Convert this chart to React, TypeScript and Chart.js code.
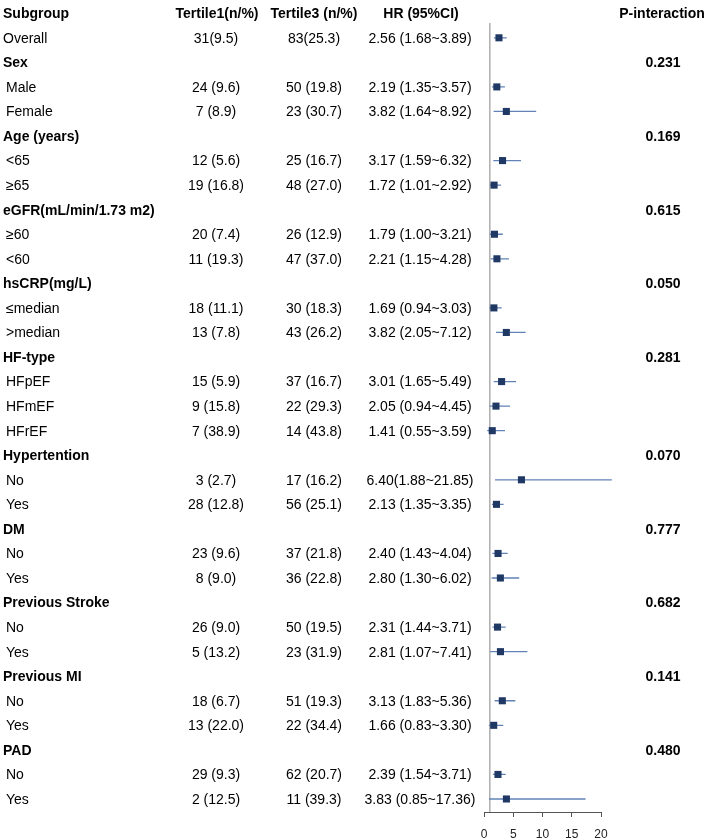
import React, { useEffect, useRef } from 'react';
import { Chart, registerables } from 'chart.js';

Chart.register(...registerables);

const FONT = "'Liberation Sans', Arial, Helvetica, sans-serif";

const headers = ['Subgroup', 'Tertile1(n/%)', 'Tertile3 (n/%)', 'HR (95%CI)', 'P-interaction'];

const subgroupLabels = [
  'Overall', 'Sex', 'Male', 'Female', 'Age (years)', '<65', '≥65',
  'eGFR(mL/min/1.73 m2)', '≥60', '<60', 'hsCRP(mg/L)', '≤median', '>median',
  'HF-type', 'HFpEF', 'HFmEF', 'HFrEF', 'Hypertention', 'No', 'Yes',
  'DM', 'No', 'Yes', 'Previous Stroke', 'No', 'Yes', 'Previous MI', 'No', 'Yes',
  'PAD', 'No', 'Yes',
];

const isGroup = [
  false, true, false, false, true, false, false,
  true, false, false, true, false, false,
  true, false, false, false, true, false, false,
  true, false, false, true, false, false, true, false, false,
  true, false, false,
];

const tertile1 = [
  '31(9.5)', '', '24 (9.6)', '7 (8.9)', '', '12 (5.6)', '19 (16.8)',
  '', '20 (7.4)', '11 (19.3)', '', '18 (11.1)', '13 (7.8)',
  '', '15 (5.9)', '9 (15.8)', '7 (38.9)', '', '3 (2.7)', '28 (12.8)',
  '', '23 (9.6)', '8 (9.0)', '', '26 (9.0)', '5 (13.2)', '', '18 (6.7)', '13 (22.0)',
  '', '29 (9.3)', '2 (12.5)',
];

const tertile3 = [
  '83(25.3)', '', '50 (19.8)', '23 (30.7)', '', '25 (16.7)', '48 (27.0)',
  '', '26 (12.9)', '47 (37.0)', '', '30 (18.3)', '43 (26.2)',
  '', '37 (16.7)', '22 (29.3)', '14 (43.8)', '', '17 (16.2)', '56 (25.1)',
  '', '37 (21.8)', '36 (22.8)', '', '50 (19.5)', '23 (31.9)', '', '51 (19.3)', '22 (34.4)',
  '', '62 (20.7)', '11 (39.3)',
];

const hrText = [
  '2.56 (1.68~3.89)', '', '2.19 (1.35~3.57)', '3.82 (1.64~8.92)', '', '3.17 (1.59~6.32)', '1.72 (1.01~2.92)',
  '', '1.79 (1.00~3.21)', '2.21 (1.15~4.28)', '', '1.69 (0.94~3.03)', '3.82 (2.05~7.12)',
  '', '3.01 (1.65~5.49)', '2.05 (0.94~4.45)', '1.41 (0.55~3.59)', '', '6.40(1.88~21.85)', '2.13 (1.35~3.35)',
  '', '2.40 (1.43~4.04)', '2.80 (1.30~6.02)', '', '2.31 (1.44~3.71)', '2.81 (1.07~7.41)', '', '3.13 (1.83~5.36)', '1.66 (0.83~3.30)',
  '', '2.39 (1.54~3.71)', '3.83 (0.85~17.36)',
];

const hr = [
  2.56, null, 2.19, 3.82, null, 3.17, 1.72,
  null, 1.79, 2.21, null, 1.69, 3.82,
  null, 3.01, 2.05, 1.41, null, 6.40, 2.13,
  null, 2.40, 2.80, null, 2.31, 2.81, null, 3.13, 1.66,
  null, 2.39, 3.83,
];

const ciLow = [
  1.68, null, 1.35, 1.64, null, 1.59, 1.01,
  null, 1.00, 1.15, null, 0.94, 2.05,
  null, 1.65, 0.94, 0.55, null, 1.88, 1.35,
  null, 1.43, 1.30, null, 1.44, 1.07, null, 1.83, 0.83,
  null, 1.54, 0.85,
];

const ciHigh = [
  3.89, null, 3.57, 8.92, null, 6.32, 2.92,
  null, 3.21, 4.28, null, 3.03, 7.12,
  null, 5.49, 4.45, 3.59, null, 21.85, 3.35,
  null, 4.04, 6.02, null, 3.71, 7.41, null, 5.36, 3.30,
  null, 3.71, 17.36,
];

const pInteraction = [
  '', '0.231', '', '', '0.169', '', '',
  '0.615', '', '', '0.050', '', '',
  '0.281', '', '', '', '0.070', '', '',
  '0.777', '', '', '0.682', '', '', '0.141', '', '',
  '0.480', '', '',
];

const xTicks = [0, 5, 10, 15, 20];
const refValue = 1;

const tablePlugin = {
  id: 'forestTable',
  afterDraw(chart: any) {
    const ctx = chart.ctx;
    const y = chart.scales.y;
    ctx.save();
    ctx.fillStyle = '#000';
    ctx.textBaseline = 'middle';
    const colX = [3, 217, 314, 421, 662];
    ctx.font = `bold 14px ${FONT}`;
    headers.forEach((h, j) => {
      ctx.textAlign = j === 0 ? 'left' : 'center';
      ctx.fillText(h, colX[j], y.getPixelForValue(0) + 1);
    });
    subgroupLabels.forEach((lab, i) => {
      const py = y.getPixelForValue(i + 1) + 1;
      const g = isGroup[i];
      ctx.textAlign = 'left';
      ctx.font = `${g ? 'bold ' : ''}14px ${FONT}`;
      ctx.fillText(lab, g || i === 0 ? 3 : 6, py);
      ctx.font = `14px ${FONT}`;
      ctx.textAlign = 'center';
      if (tertile1[i]) ctx.fillText(tertile1[i], 216, py);
      if (tertile3[i]) ctx.fillText(tertile3[i], 314, py);
      if (hrText[i]) ctx.fillText(hrText[i], 420, py);
      if (pInteraction[i]) {
        ctx.font = `bold 14px ${FONT}`;
        ctx.fillText(pInteraction[i], 663, py);
      }
    });
    ctx.restore();
  },
};

export default function App() {
  const ref = useRef<HTMLCanvasElement | null>(null);

  useEffect(() => {
    document.body.style.margin = '0';
    const canvas = ref.current;
    if (!canvas) return;

    const markers: any[] = [];
    const ci: any[] = [];
    hr.forEach((v, i) => {
      if (v == null) return;
      markers.push({ x: v, y: i + 1 });
      ci.push({ x: ciLow[i], y: i + 1 });
      ci.push({ x: ciHigh[i], y: i + 1 });
      ci.push({ x: null, y: null });
    });

    const chart = new Chart(canvas, {
      type: 'scatter',
      data: {
        datasets: [
          {
            data: markers,
            pointStyle: 'rect',
            pointRadius: 5,
            pointHoverRadius: 5,
            backgroundColor: '#1f3864',
            borderColor: '#1f3864',
            borderWidth: 0,
            showLine: false,
            clip: false,
          },
          {
            data: ci,
            showLine: true,
            spanGaps: false,
            pointRadius: 0,
            borderColor: '#6282b6',
            borderWidth: 1.3,
            clip: false,
          },
          {
            data: [
              { x: refValue, y: 0.4 },
              { x: refValue, y: 32.53 },
            ],
            showLine: true,
            pointRadius: 0,
            borderColor: '#9a9a9a',
            borderWidth: 1.2,
            clip: false,
          },
        ],
      },
      options: {
        responsive: false,
        animation: false,
        events: [],
        layout: { padding: { left: 484, right: 108, top: 0, bottom: 0 } },
        plugins: {
          legend: { display: false },
          tooltip: { enabled: false },
        },
        scales: {
          x: {
            type: 'linear',
            min: 0,
            max: 20,
            afterBuildTicks: (scale: any) => {
              scale.ticks = xTicks.map((v) => ({ value: v }));
            },
            afterFit: (scale: any) => {
              scale.height = 28;
            },
            grid: {
              drawOnChartArea: false,
              drawTicks: true,
              tickLength: 5,
              color: '#555',
            },
            border: { display: true, color: '#555', width: 1 },
            ticks: {
              padding: 10,
              color: '#222',
              font: { family: FONT, size: 12 },
            },
          },
          y: {
            type: 'linear',
            display: false,
            reverse: true,
            min: -0.336,
            max: 32.53,
          },
        },
      },
      plugins: [tablePlugin],
    });

    return () => chart.destroy();
  }, []);

  return <canvas ref={ref} width={709} height={840} style={{ display: 'block' }} />;
}
